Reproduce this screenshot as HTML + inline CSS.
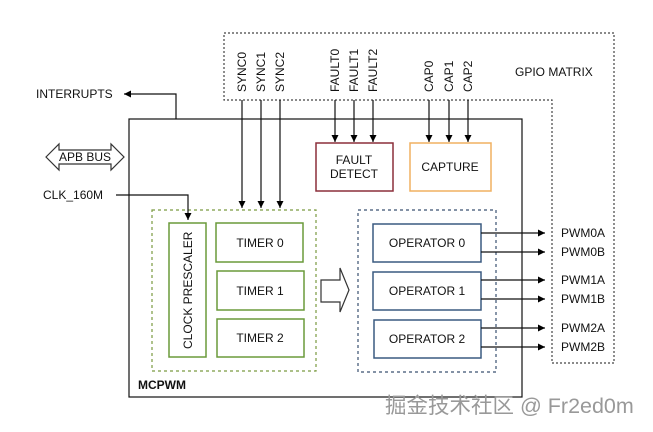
<!DOCTYPE html>
<html><head><meta charset="utf-8"><style>body{margin:0;background:#fff}svg{display:block}</style></head><body>
<svg width="653" height="432" viewBox="0 0 653 432" xmlns="http://www.w3.org/2000/svg" font-family="Liberation Sans, sans-serif" font-size="12" fill="#111">
<defs><marker id="a" viewBox="0 0 10 10" refX="10" refY="5" markerWidth="7" markerHeight="7" orient="auto" markerUnits="userSpaceOnUse"><path d="M0,0L10,5L0,10z" fill="#000"/></marker></defs>
<g fill="none" stroke="#444" stroke-width="1.2">
<polygon points="224,33 614,33 614,363 552,363 552,100 224,100" stroke-dasharray="2,2"/>
<rect x="129" y="119" width="393" height="278" stroke="#111"/>
<rect x="152" y="210" width="164" height="161" stroke="#7a9a40" stroke-dasharray="3,3"/>
<rect x="358" y="210" width="138" height="162" stroke="#3a5070" stroke-dasharray="3,3"/>
<g stroke="#6a9a3a" stroke-width="1.5"><rect x="169" y="223" width="37" height="134"/><rect x="216" y="223" width="87" height="39"/><rect x="217" y="271" width="87" height="39"/><rect x="217" y="319" width="87" height="38"/></g>
<g stroke="#3a5a80" stroke-width="1.5"><rect x="373" y="224" width="108" height="38"/><rect x="373" y="272" width="108" height="38"/><rect x="374" y="320" width="107" height="38"/></g>
<rect x="316" y="143" width="77" height="48" stroke="#8b2f3a" stroke-width="1.5"/>
<rect x="410" y="143" width="81" height="48" stroke="#f0b060" stroke-width="1.5"/>
<path d="M321,280H340V268L349,290L340,312V302H321Z" stroke="#333"/>
<path d="M46,157L59,144V150H111V144L124,157L111,170V164H59V170Z" stroke="#333"/>
<g stroke="#111"><path d="M176,119V94H124" marker-end="url(#a)"/><path d="M116,195H188V220" marker-end="url(#a)"/>
<path d="M242,100V208" marker-end="url(#a)"/><path d="M261,100V208" marker-end="url(#a)"/><path d="M280,100V208" marker-end="url(#a)"/>
<path d="M335,100V142" marker-end="url(#a)"/><path d="M354,100V142" marker-end="url(#a)"/><path d="M373,100V142" marker-end="url(#a)"/>
<path d="M429,100V142" marker-end="url(#a)"/><path d="M449,100V142" marker-end="url(#a)"/><path d="M468,100V142" marker-end="url(#a)"/>
<path d="M481,233H545" marker-end="url(#a)"/><path d="M481,252H545" marker-end="url(#a)"/><path d="M481,280H545" marker-end="url(#a)"/><path d="M481,299H545" marker-end="url(#a)"/><path d="M481,328H545" marker-end="url(#a)"/><path d="M481,347H545" marker-end="url(#a)"/></g>
</g>
<text x="36" y="98">INTERRUPTS</text>
<text x="85" y="161" text-anchor="middle">APB BUS</text>
<text x="43" y="199">CLK_160M</text>
<text x="515" y="76">GPIO MATRIX</text>
<g text-anchor="start">
<text transform="translate(246,92) rotate(-90)">SYNC0</text><text transform="translate(265,92) rotate(-90)">SYNC1</text><text transform="translate(284,92) rotate(-90)">SYNC2</text>
<text transform="translate(339,92) rotate(-90)">FAULT0</text><text transform="translate(358,92) rotate(-90)">FAULT1</text><text transform="translate(377,92) rotate(-90)">FAULT2</text>
<text transform="translate(433,92) rotate(-90)">CAP0</text><text transform="translate(453,92) rotate(-90)">CAP1</text><text transform="translate(472,92) rotate(-90)">CAP2</text>
<text transform="translate(192,349) rotate(-90)">CLOCK PRESCALER</text>
</g>
<g text-anchor="middle">
<text x="354" y="164">FAULT</text><text x="354" y="178">DETECT</text>
<text x="450" y="171">CAPTURE</text>
<text x="260" y="247">TIMER 0</text><text x="260" y="295">TIMER 1</text><text x="260" y="342">TIMER 2</text>
<text x="427" y="247">OPERATOR 0</text><text x="427" y="295">OPERATOR 1</text><text x="427" y="343">OPERATOR 2</text>
</g>
<text x="561" y="237">PWM0A</text><text x="561" y="256">PWM0B</text><text x="561" y="284">PWM1A</text><text x="561" y="303">PWM1B</text><text x="561" y="332">PWM2A</text><text x="561" y="351">PWM2B</text>
<text x="138" y="389" font-weight="bold">MCPWM</text>
<text x="385" y="413" font-size="21.5" fill="#999" font-family="Liberation Sans, Noto Sans CJK SC, sans-serif">掘金技术社区 @ Fr2ed0m</text>
</svg>
</body></html>
